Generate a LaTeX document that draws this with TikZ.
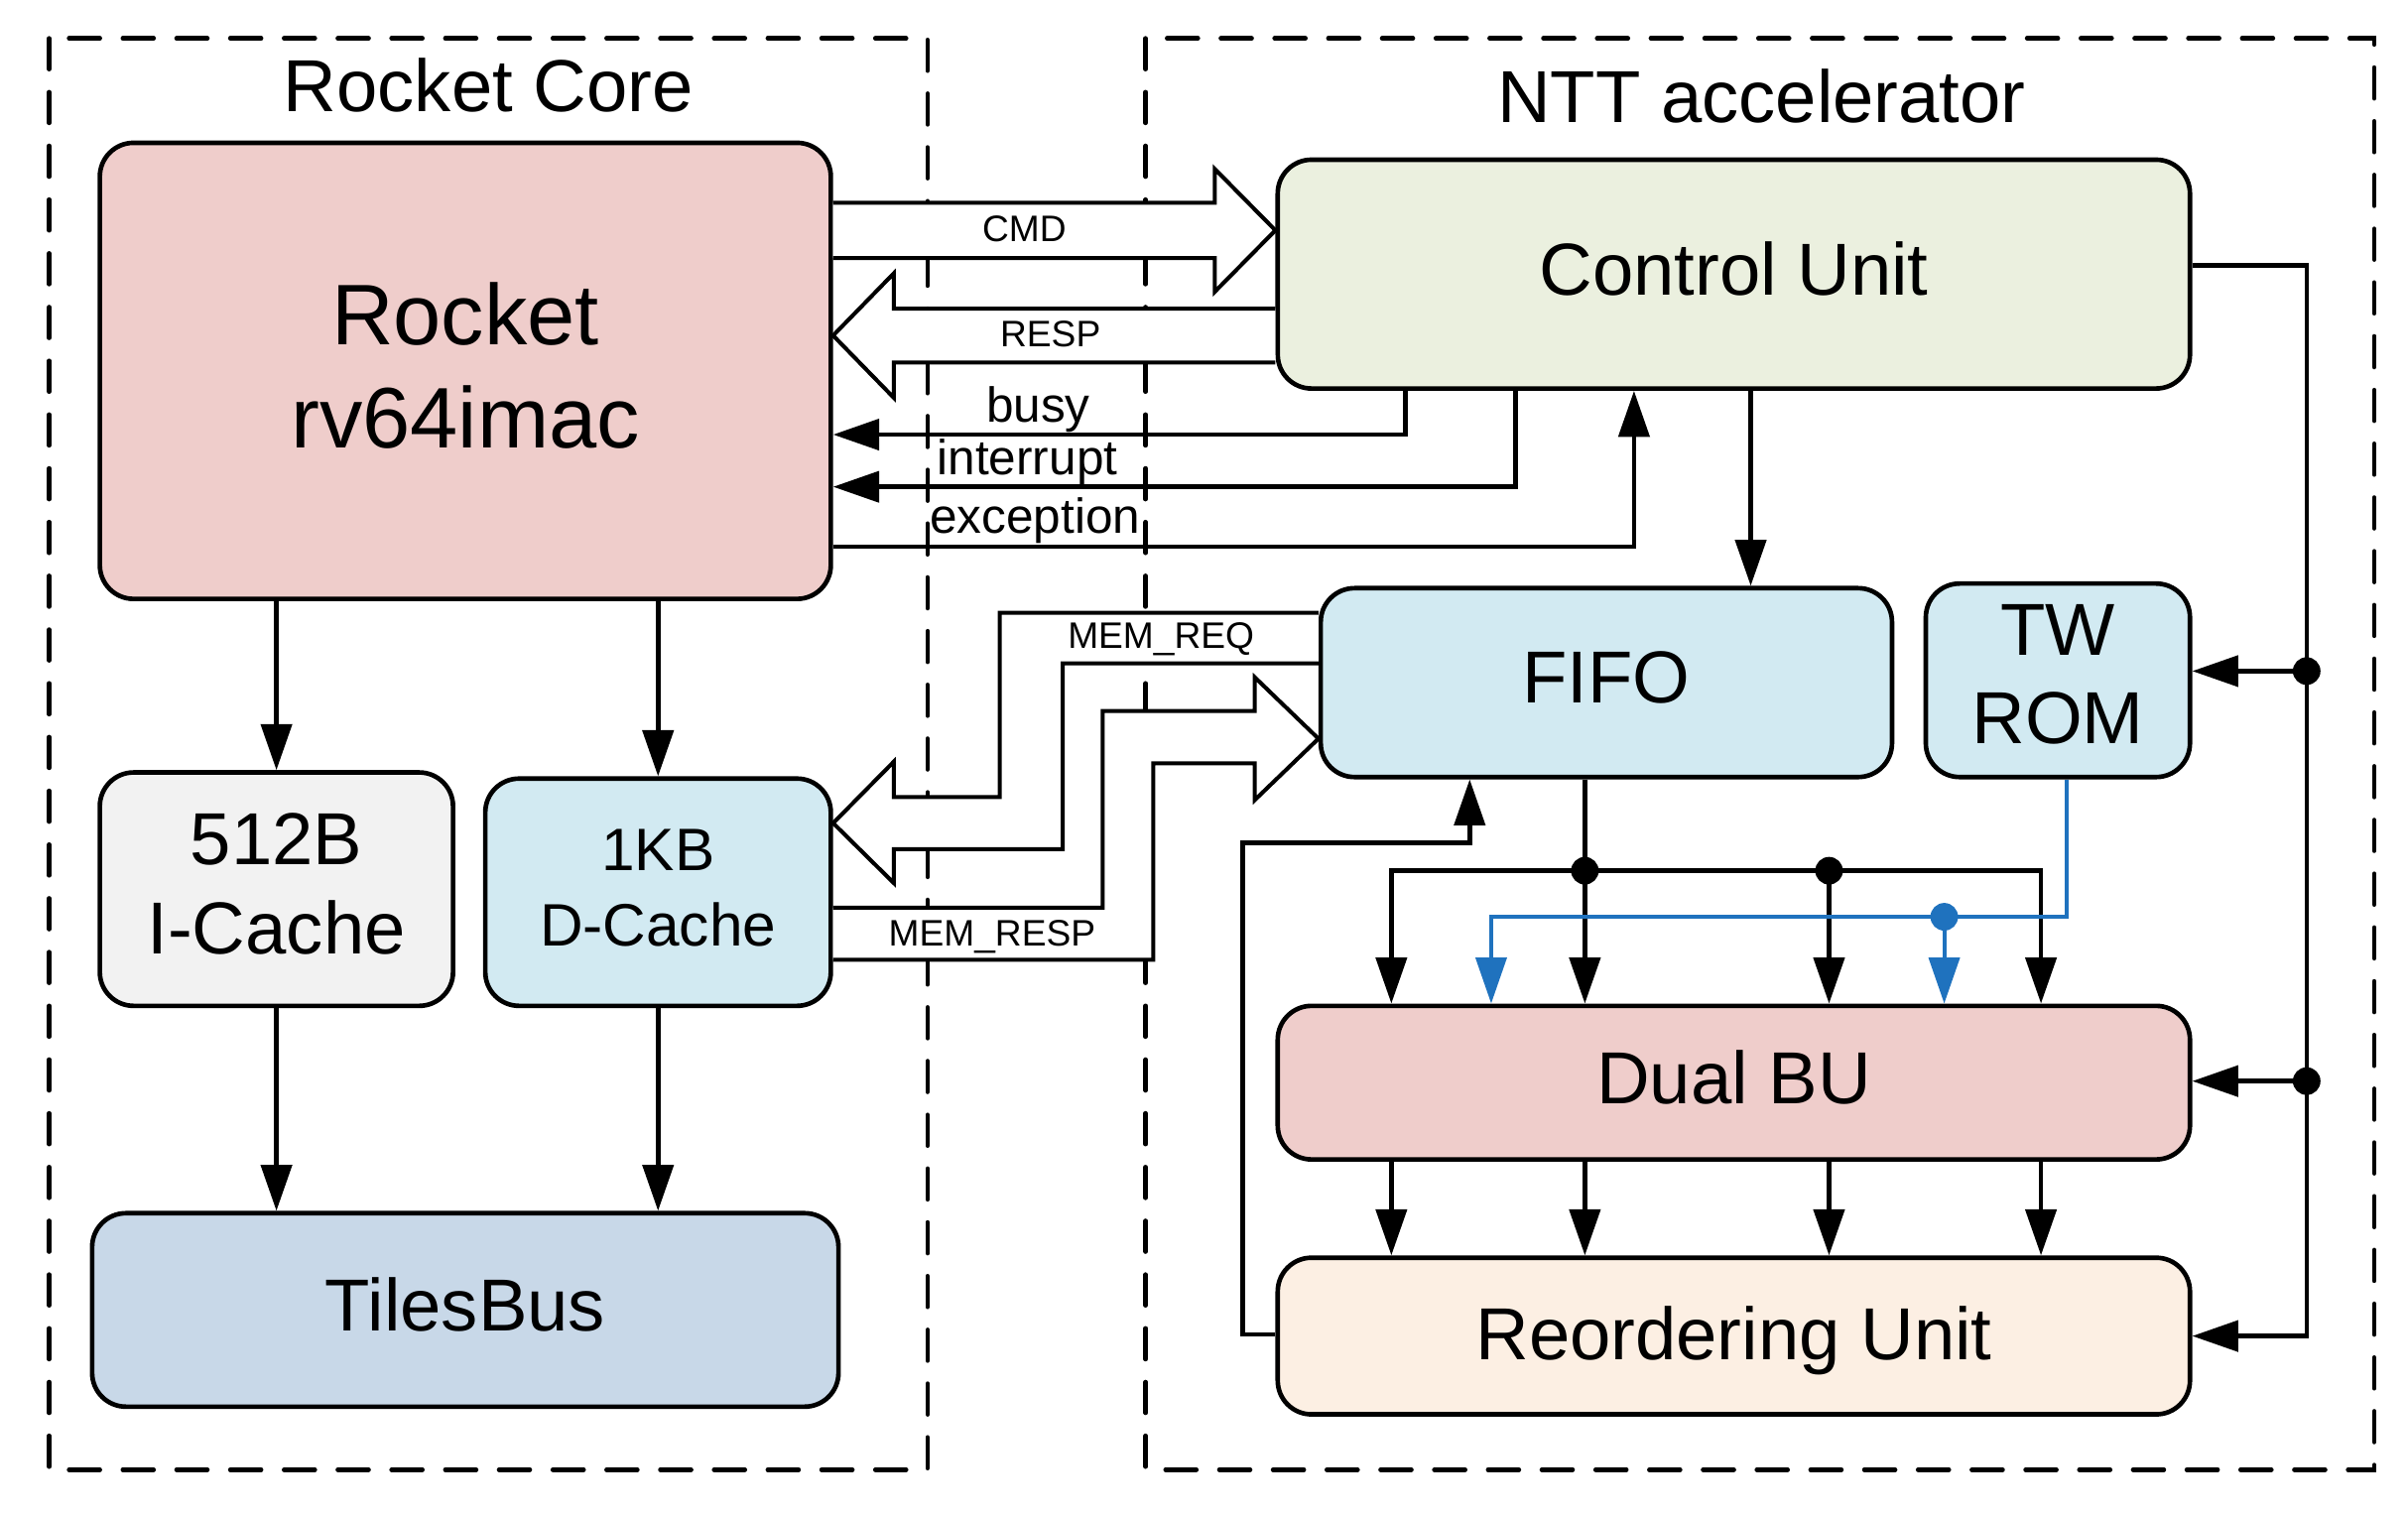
\documentclass[tikz,border=0pt]{standalone}
\usepackage{fontspec}
\setmainfont{Liberation Sans}
\usetikzlibrary{arrows.meta,calc}
\definecolor{pinkc}{RGB}{239,205,203}
\definecolor{greenc}{RGB}{235,240,223}
\definecolor{bluec}{RGB}{210,234,242}
\definecolor{grayc}{RGB}{242,242,242}
\definecolor{busc}{RGB}{200,216,232}
\definecolor{orangec}{RGB}{252,239,227}
\definecolor{linkblue}{RGB}{31,114,190}
\newcommand{\dstrut}{\rule[-7pt]{0pt}{7pt}}
\begin{document}
\begin{tikzpicture}[x=1pt,y=-1pt,
  box/.style={draw=black, line width=3pt, rounded corners=22pt, inner sep=0pt, align=center},
  onebox/.style={box, text depth=7pt},
  arr/.style={line width=3pt, -{Triangle[length=30pt,width=20pt]}},
  barr/.style={line width=2.6pt, draw=linkblue, -{Triangle[length=30pt,width=20pt]}},
  ln/.style={line width=3pt},
  hollow/.style={draw=black, fill=white, line width=2.6pt, line join=miter},
  dashbox/.style={draw=black, line width=3pt, dash pattern=on 20pt off 15pt, line cap=round},
  dot/.style={circle, fill=black, inner sep=0pt, minimum size=18pt},
  big/.style={font=\fontsize{48}{58}\selectfont},
  small/.style={font=\fontsize{24}{28}\selectfont},
  mid/.style={font=\fontsize{32}{38}\selectfont},
]
\useasboundingbox (0,0) rectangle (1568,986.5);

% dashed groups
\draw[dashbox] (32,25) rectangle (604,957);
\draw[dashbox] (746,25) rectangle (1546,957);
\node[big, anchor=base] (t1) at (318,73) {Rocket Core};
\node[big, anchor=base] (t2) at (1147,80) {NTT accelerator};

% boxes
\node[box, fill=pinkc, minimum width=476pt, minimum height=297pt, font=\fontsize{56}{67}\selectfont] (rocket) at (303,241.5) {Rocket\\rv64imac\dstrut};
\node[box, fill=grayc, minimum width=230pt, minimum height=152pt, font=\fontsize{48}{58}\selectfont] (icache) at (180,579) {512B\\I-Cache\dstrut};
\node[box, fill=bluec, minimum width=225pt, minimum height=148pt, font=\fontsize{39}{49}\selectfont] (dcache) at (428.5,581) {1KB\\D-Cache\rule[-6pt]{0pt}{6pt}};
\node[onebox, fill=busc, minimum width=486pt, minimum height=126pt, big] (tiles) at (303,853) {TilesBus};
\node[onebox, fill=greenc, minimum width=594pt, minimum height=149pt, big] (cu) at (1129,178.5) {Control Unit};
\node[onebox, fill=bluec, minimum width=372pt, minimum height=123pt, big] (fifo) at (1046,444.5) {FIFO};
\node[box, fill=bluec, minimum width=172pt, minimum height=126pt, big] (twrom) at (1340,443) {TW\\ROM\rule[-8pt]{0pt}{8pt}};
\node[onebox, fill=pinkc, minimum width=594pt, minimum height=100pt, big] (dualbu) at (1129,705) {Dual BU};
\node[box, fill=orangec, minimum width=594pt, minimum height=102pt, big, text depth=4pt] (reorder) at (1129,870) {Reordering Unit};

% rocket core internal
\draw[arr] (rocket.south -| icache.north) -- (icache.north);
\draw[arr] (rocket.south -| dcache.north) -- (dcache.north);
\draw[arr] (icache.south) -- (icache.south |- tiles.north);
\draw[arr] (dcache.south) -- (dcache.south |- tiles.north);

% CMD / RESP
\draw[hollow] (rocket.east |- 0,132) -- (791,132) -- (791,110) -- (cu.west |- 0,150) -- (791,190) -- (791,168) -- (rocket.east |- 0,168);
\node[small, anchor=base] (cmdl) at (667,157) {CMD};
\draw[hollow] (cu.west |- 0,201) -- (582,201) -- (582,178) -- (rocket.east |- 0,218.5) -- (582,259) -- (582,236) -- (cu.west |- 0,236);
\node[small, anchor=base] (respl) at (684,226) {RESP};

% busy / interrupt / exception
\draw[arr] (915,0 |- cu.south) |- (rocket.east |- 0,283);
\draw[arr] (987,0 |- cu.south) |- (rocket.east |- 0,317);
\draw[arr] (rocket.east |- 0,356) -| (1064,0 |- cu.south);
\node[mid, anchor=base] (busyl) at (676,274.6) {busy};
\node[mid, anchor=base] (intl) at (669,309) {interrupt};
\node[mid, anchor=base] (excl) at (674,347) {exception};

% MEM_REQ / MEM_RESP
\draw[hollow] (fifo.west |- 0,399) -- (651,399) -- (651,519) -- (582,519) -- (582,496) -- (dcache.east |- 0,536) -- (582,575) -- (582,553) -- (692,553) -- (692,432) -- (fifo.west |- 0,432);
\node[small, anchor=base] (reql) at (756,422) {MEM\_REQ};
\draw[hollow] (dcache.east |- 0,591) -- (718,591) -- (718,463) -- (817,463) -- (817,441) -- (fifo.west |- 0,481) -- (817,521) -- (817,497) -- (751,497) -- (751,625) -- (dcache.east |- 0,625);
\node[small, anchor=base] (respm) at (646,616) {MEM\_RESP};

% control unit to FIFO
\draw[arr] (1140,0 |- cu.south) -- (1140,0 |- fifo.north);

% right bus
\draw[arr] (cu.east |- 0,173) -- (1502,173) |- (reorder.east);
\node[dot] (d1) at (1502,437) {};
\node[dot] (d2) at (1502,704) {};
\draw[arr] (d1.center) -- (twrom.east |- d1.center);
\draw[arr] (d2.center) -- (dualbu.east |- d2.center);

% FIFO to Dual BU
\node[dot] (d3) at (1032,567) {};
\node[dot] (d4) at (1191,567) {};
\draw[arr] (1032,0 |- fifo.south) -- (1032,0 |- dualbu.north);
\draw[arr] (d3.center) -| (906,0 |- dualbu.north);
\draw[arr] (d3.center) -| (1329,0 |- dualbu.north);
\draw[arr] (d4.center) -- (1191,0 |- dualbu.north);

% TW ROM to Dual BU
\draw[barr] (1346,0 |- twrom.south) |- (971,597) -- (971,0 |- dualbu.north);
\node[dot, fill=linkblue] (d5) at (1266,597) {};
\draw[barr] (d5.center) -- (1266,0 |- dualbu.north);

% Dual BU to Reordering
\foreach \xx in {906,1032,1191,1329}
  \draw[arr] (\xx,0 |- dualbu.south) -- (\xx,0 |- reorder.north);

% Reordering back to FIFO
\draw[arr] (reorder.west |- 0,869) -| (809,549) -| (957,0 |- fifo.south);
\end{tikzpicture}
\end{document}
